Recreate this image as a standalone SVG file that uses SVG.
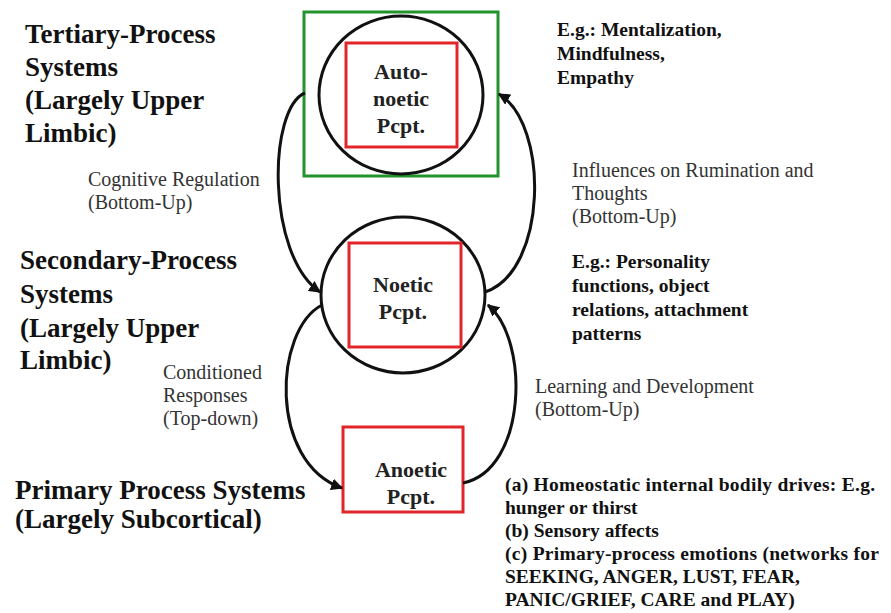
<svg xmlns="http://www.w3.org/2000/svg" width="891" height="613" viewBox="0 0 891 613">
<style>
.big{font-family:"Liberation Serif",serif;font-weight:bold;font-size:27px;fill:#111}
.node{font-family:"Liberation Serif",serif;font-weight:bold;font-size:22px;fill:#222;text-anchor:middle}
.bl{font-family:"Liberation Serif",serif;font-weight:bold;font-size:19.5px;fill:#111}
.lab{font-family:"Liberation Serif",serif;font-size:20px;fill:#333}
.red{fill:none;stroke:#e0262a;stroke-width:3}
.circ{fill:none;stroke:#111;stroke-width:3}
.conn path{fill:none;stroke:#111;stroke-width:3;marker-end:url(#ah)}
</style>
<defs>
<marker id="ah" viewBox="0 0 10 10" refX="9" refY="5" markerWidth="4" markerHeight="4" orient="auto" markerUnits="strokeWidth">
<path d="M0,0 L10,5 L0,10 z" fill="#111"/>
</marker>
</defs>
<rect width="891" height="613" fill="#fff"/>

<g id="tertiary">
<rect x="304" y="12" width="194" height="164" fill="none" stroke="#23942b" stroke-width="3"/>
<ellipse class="circ" cx="401" cy="95" rx="82" ry="79"/>
<rect class="red" x="346" y="43" width="111" height="104"/>
<text class="node" x="401" y="79">Auto-</text>
<text class="node" x="401" y="106">noetic</text>
<text class="node" x="401" y="133">Pcpt.</text>
</g>

<g id="secondary">
<ellipse class="circ" cx="403" cy="295" rx="82" ry="78"/>
<rect class="red" x="349" y="243" width="112" height="104"/>
<text class="node" x="403" y="292">Noetic</text>
<text class="node" x="403" y="319">Pcpt.</text>
</g>

<g id="primary">
<rect class="red" x="343" y="427" width="120" height="85"/>
<text class="node" x="411" y="477">Anoetic</text>
<text class="node" x="411" y="504">Pcpt.</text>
</g>

<g class="conn" id="connectors">
<path d="M305,93 C268,108 266,255 320,292"/>
<path d="M485,292 C547,272 550,125 499,94"/>
<path d="M322,305 C274,330 268,462 342,488"/>
<path d="M463,483 C527,470 530,340 488,305"/>
</g>

<g id="labels-left">
<text class="big" x="25" y="43">Tertiary-Process</text>
<text class="big" x="25" y="76">Systems</text>
<text class="big" x="25" y="109">(Largely Upper</text>
<text class="big" x="25" y="142">Limbic)</text>
<text class="big" x="20" y="269">Secondary-Process</text>
<text class="big" x="20" y="303">Systems</text>
<text class="big" x="20" y="337">(Largely Upper</text>
<text class="big" x="20" y="369">Limbic)</text>
<text class="big" x="15" y="499">Primary Process Systems</text>
<text class="big" x="15" y="528">(Largely Subcortical)</text>
</g>

<g id="connector-labels">
<text class="lab" x="88" y="186">Cognitive Regulation</text>
<text class="lab" x="88" y="209">(Bottom-Up)</text>
<text class="lab" x="572" y="177">Influences  on Rumination and</text>
<text class="lab" x="572" y="200">Thoughts</text>
<text class="lab" x="572" y="223">(Bottom-Up)</text>
<text class="lab" x="163" y="379">Conditioned</text>
<text class="lab" x="163" y="402">Responses</text>
<text class="lab" x="163" y="425">(Top-down)</text>
<text class="lab" x="535" y="393">Learning and Development</text>
<text class="lab" x="535" y="416">(Bottom-Up)</text>
</g>

<g id="examples">
<text class="bl" x="557" y="36">E.g.: Mentalization,</text>
<text class="bl" x="557" y="60">Mindfulness,</text>
<text class="bl" x="557" y="84">Empathy</text>
<text class="bl" x="572" y="268">E.g.: Personality</text>
<text class="bl" x="572" y="292">functions, object</text>
<text class="bl" x="572" y="316">relations, attachment</text>
<text class="bl" x="572" y="340">patterns</text>
<text class="bl" x="505" y="491" textLength="370" lengthAdjust="spacing">(a) Homeostatic internal bodily drives: E.g.</text>
<text class="bl" x="505" y="514">hunger or thirst</text>
<text class="bl" x="505" y="537">(b) Sensory affects</text>
<text class="bl" x="505" y="560" textLength="374" lengthAdjust="spacing">(c) Primary-process emotions (networks for</text>
<text class="bl" x="505" y="583">SEEKING, ANGER, LUST, FEAR,</text>
<text class="bl" x="505" y="606">PANIC/GRIEF, CARE and PLAY)</text>
</g>
</svg>
